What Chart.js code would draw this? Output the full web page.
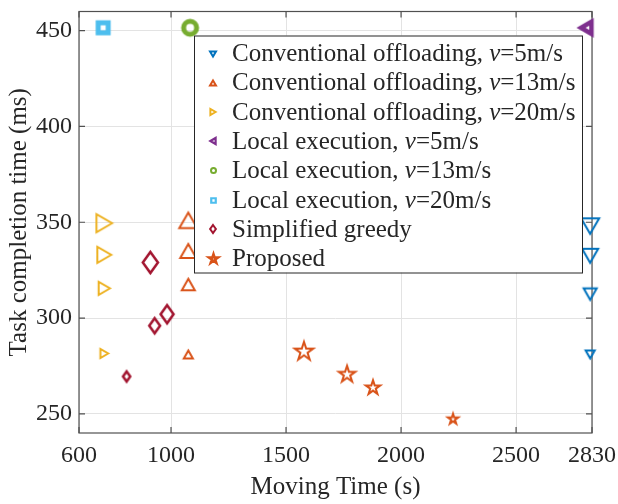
<!DOCTYPE html>
<html lang="en">
<head>
<meta charset="UTF-8">
<title>Task completion time vs moving time</title>
<script src="https://cdn.jsdelivr.net/npm/chart.js"></script>
<style>
  html, body { margin: 0; padding: 0; background: #fff; }
</style>
</head>
<body>
<canvas id="chart" width="618" height="504"></canvas>
<script>
// values
const xTicks = [600, 1000, 1500, 2000, 2500, 2830];
const yTicks = [250, 300, 350, 400, 450];

const labels = [
  'Conventional offloading, v=5m/s',
  'Conventional offloading, v=13m/s',
  'Conventional offloading, v=20m/s',
  'Local execution, v=5m/s',
  'Local execution, v=13m/s',
  'Local execution, v=20m/s',
  'Simplified greedy',
  'Proposed'
];

const conv5X = [2822, 2822, 2822, 2822];
const conv5Y = [348, 332.5, 312.5, 281];
const conv13X = [1075, 1075, 1075, 1075];
const conv13Y = [351, 335, 317.5, 281];
const conv20X = [710, 710, 710, 710];
const conv20Y = [349.5, 333, 315.5, 281.5];
const localX = [2805, 1083, 705];
const localY = [451.5, 451.5, 451.5];
const greedyX = [910, 983, 929, 807];
const greedyY = [329, 302, 296, 269.5];
const propX = [1578, 1765, 1878, 2226];
const propY = [283, 271, 264, 247.5];

// marker sizes (px), largest to smallest
const triSize = [18, 16, 13, 9];
const diaSize = [21, 18, 15, 10];
const starSize = [18, 16, 14, 10];

const C = {
  blue: '#0072BD', orange: '#D95319', yellow: '#EDB120', purple: '#7E2F8E',
  green: '#77AC30', cyan: '#4DBEEE', red: '#A2142F'
};
const FONT = '"Liberation Serif", "Times New Roman", serif';
const INK = '#262626';

// matlab-like marker drawn into a small canvas, centred on its box
function marker(shape, size, color, lw) {
  const pad = Math.ceil(lw) + 3;
  const d = Math.ceil(size) + 2 * pad;
  const c = document.createElement('canvas');
  c.width = c.height = d;
  const g = c.getContext('2d');
  g.translate(d / 2, d / 2);
  g.strokeStyle = color;
  g.lineWidth = lw;
  g.lineJoin = 'miter';
  const s = size / 2;
  g.beginPath();
  if (shape === 'circle') {
    g.arc(0, 0, s, 0, Math.PI * 2);
  } else if (shape === 'square') {
    g.rect(-s, -s, size, size);
  } else if (shape === 'diamond') {
    g.moveTo(0, -s); g.lineTo(0.72 * s, 0); g.lineTo(0, s); g.lineTo(-0.72 * s, 0);
    g.closePath();
  } else if (shape === 'star') {
    const R = size / 1.85, r = R * 0.382;
    for (let k = 0; k < 10; k++) {
      const a = -Math.PI / 2 + k * Math.PI / 5;
      const rr = k % 2 ? r : R;
      const px = Math.cos(a) * rr, py = Math.sin(a) * rr + R * 0.095;
      k ? g.lineTo(px, py) : g.moveTo(px, py);
    }
    g.closePath();
  } else {
    // triangles: up, down, left, right
    const rot = { up: 0, down: Math.PI, left: -Math.PI / 2, right: Math.PI / 2 }[shape];
    const a = s * 0.87;
    g.rotate(rot);
    g.moveTo(0, -a); g.lineTo(s, a); g.lineTo(-s, a);
    g.closePath();
  }
  g.stroke();
  return c;
}

function pts(xs, ys) {
  return xs.map((x, i) => ({ x: x, y: ys[i] }));
}

function series(label, data, shape, sizes, color, lw, legSize, legLw) {
  return {
    label: label,
    data: data,
    pointStyle: sizes.map(s => marker(shape, s, color, lw)),
    pointRadius: sizes.map(s => s / 2),
    legendMarker: marker(shape, legSize, color, legLw),
    showLine: false,
    clip: false
  };
}

const datasets = [
  series(labels[0], pts(conv5X, conv5Y), 'down', triSize, C.blue, 2, 6, 2),
  series(labels[1], pts(conv13X, conv13Y), 'up', triSize, C.orange, 2, 6, 2),
  series(labels[2], pts(conv20X, conv20Y), 'right', triSize, C.yellow, 2, 6, 2),
  series(labels[3], [{ x: localX[0], y: localY[0] }], 'left', [12], C.purple, 4.5, 6, 2.2),
  series(labels[4], [{ x: localX[1], y: localY[1] }], 'circle', [13], C.green, 5, 5, 2),
  series(labels[5], [{ x: localX[2], y: localY[2] }], 'square', [10], C.cyan, 5, 4.5, 2.2),
  series(labels[6], pts(greedyX, greedyY), 'diamond', diaSize, C.red, 2.5, 8, 2),
  series(labels[7], pts(propX, propY), 'star', starSize, C.orange, 2, 9, 2.5)
];

// axes box with inward ticks
const frame = {
  id: 'frame',
  beforeDatasetsDraw(chart) {
    const { ctx, chartArea: a, scales: { x, y } } = chart;
    ctx.save();
    ctx.strokeStyle = '#505050';
    ctx.lineWidth = 1.2;
    ctx.strokeRect(a.left, a.top, a.right - a.left, a.bottom - a.top);
    ctx.beginPath();
    xTicks.forEach(v => {
      const px = x.getPixelForValue(v);
      ctx.moveTo(px, a.bottom); ctx.lineTo(px, a.bottom - 6);
      ctx.moveTo(px, a.top); ctx.lineTo(px, a.top + 6);
    });
    yTicks.forEach(v => {
      const py = y.getPixelForValue(v);
      ctx.moveTo(a.left, py); ctx.lineTo(a.left + 6, py);
      ctx.moveTo(a.right, py); ctx.lineTo(a.right - 6, py);
    });
    ctx.stroke();
    ctx.restore();
  }
};

// boxed legend inside the plot
const boxLegend = {
  id: 'boxLegend',
  afterDatasetsDraw(chart) {
    const { ctx, chartArea: a } = chart;
    const left = a.left + 115, top = a.top + 24, w = 388, h = 237, row = 29.3;
    ctx.save();
    ctx.fillStyle = '#fff';
    ctx.fillRect(left, top, w, h);
    ctx.strokeStyle = INK;
    ctx.lineWidth = 1;
    ctx.strokeRect(left + 0.5, top + 0.5, w, h);
    ctx.textBaseline = 'middle';
    ctx.fillStyle = INK;
    chart.data.datasets.forEach((ds, i) => {
      const cy = top + 18 + i * row;
      const m = ds.legendMarker;
      ctx.drawImage(m, Math.round(left + 19 - m.width / 2), Math.round(cy - m.height / 2));
      const p = ds.label.match(/^(.*, )v(=.*)$/);
      const segs = p ? [[p[1], ''], ['v', 'italic '], [p[2], '']] : [[ds.label, '']];
      let tx = left + 38;
      segs.forEach(([t, st]) => {
        ctx.font = st + '25px ' + FONT;
        ctx.fillText(t, tx, cy + 1);
        tx += ctx.measureText(t).width;
      });
    });
    ctx.restore();
  }
};

Chart.defaults.font.family = FONT;
Chart.defaults.color = INK;

new Chart(document.getElementById('chart'), {
  type: 'scatter',
  data: { datasets: datasets },
  plugins: [frame, boxLegend],
  options: {
    responsive: false,
    animation: false,
    devicePixelRatio: 1,
    layout: { padding: { left: 0, right: 26, top: 9, bottom: 0 } },
    plugins: { legend: { display: false }, tooltip: { enabled: false } },
    scales: {
      x: {
        type: 'linear',
        min: 600,
        max: 2830,
        afterBuildTicks: s => { s.ticks = xTicks.map(v => ({ value: v })); },
        afterFit: s => { s.height = 71; s.paddingLeft = 0; s.paddingRight = 0; },
        grid: { color: '#e3e3e3', drawTicks: false },
        border: { display: false },
        ticks: {
          callback: v => String(v),
          font: { size: 24 },
          padding: 8,
          maxRotation: 0,
          autoSkip: false
        },
        title: {
          display: true,
          text: 'Moving Time (s)',
          font: { size: 25 },
          padding: { top: 0, bottom: 2 }
        }
      },
      y: {
        type: 'linear',
        min: 240,
        max: 460,
        afterBuildTicks: s => { s.ticks = yTicks.map(v => ({ value: v })); },
        afterFit: s => { s.width = 79; s.paddingTop = 0; s.paddingBottom = 0; },
        grid: { color: '#e3e3e3', drawTicks: false },
        border: { display: false },
        ticks: {
          callback: v => String(v),
          font: { size: 24 },
          padding: 7,
          autoSkip: false
        },
        title: {
          display: true,
          text: 'Task completion time (ms)',
          font: { size: 25 },
          padding: { top: 4, bottom: 0 }
        }
      }
    }
  }
});
</script>
</body>
</html>
